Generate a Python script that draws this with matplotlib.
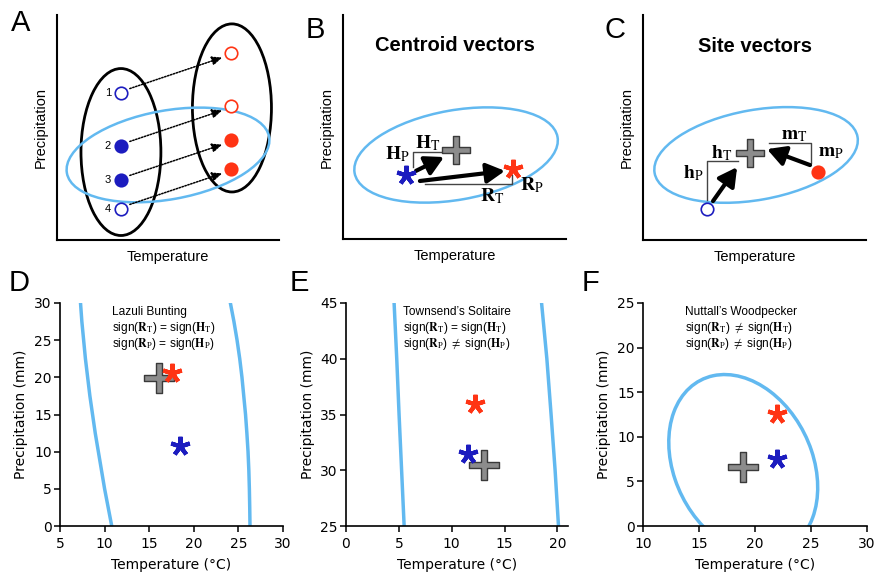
import numpy as np
import matplotlib.pyplot as plt
from matplotlib.patches import Ellipse
from matplotlib.path import Path

plt.rcParams['font.family'] = ['Liberation Sans', 'DejaVu Sans']
plt.rcParams['mathtext.fontset'] = 'stix'

LIGHT_BLUE = '#62b9f0'
BLUE = '#1c1cbf'
RED = '#ff3414'
GRAY = '#8c8c8c'

# ---------------- panel A (schematic, 0-100 units) ----------------
a_sites = ['1', '2', '3', '4']
a_hist_x = 28.8
a_hist_y = [65.3, 41.8, 26.7, 13.8]
a_hist_filled = [False, True, True, False]
a_mod_x = 78.4
a_mod_y = [83.1, 59.6, 44.4, 31.6]
a_mod_filled = [False, False, True, True]
a_hist_ell = (28.8, 39.1, 36.0, 74.2, 0)      # cx, cy, width, height, angle
a_mod_ell = (78.8, 58.7, 35.6, 74.7, 0)
a_niche_ell = (50.0, 37.8, 92.5, 39.5, 10)

# ---------------- panel B (centroid vectors) ----------------
b_niche_ell = (50.7, 37.5, 92.4, 40.0, 10)
b_hist = (28.3, 28.6)
b_mod = (76.2, 31.3)
b_centroid = (50.7, 39.7)
b_arrow_h = [(32.7, 30.4), (45.3, 36.6)]
b_arrow_r = [(34.5, 25.9), (72.6, 30.4)]
b_bracket_h_x = [31.4, 31.4, 44.4]
b_bracket_h_y = [32.1, 38.8, 38.8]
b_bracket_r_x = [36.8, 75.8, 75.8]
b_bracket_r_y = [24.6, 24.6, 28.6]

# ---------------- panel C (site vectors) ----------------
c_niche_ell = (50.7, 37.8, 92.4, 40.0, 10)
c_hist = (28.7, 13.8)
c_mod = (78.5, 30.2)
c_centroid = (48.0, 38.7)
c_arrow_h = [(31.4, 17.3), (42.2, 32.4)]
c_arrow_m = [(74.9, 33.3), (55.6, 40.4)]
c_bracket_h_x = [28.7, 28.7, 42.6]
c_bracket_h_y = [17.8, 35.1, 35.1]
c_bracket_m_x = [56.5, 75.3, 75.3]
c_bracket_m_y = [43.1, 43.1, 34.2]

# ---------------- panel D: Lazuli Bunting ----------------
d_curve_y = [30, 27.5, 25, 22.5, 20, 17.5, 15, 12.5, 10, 7.5, 5, 2.5, 0]
d_left_x = [7.3, 7.45, 7.65, 7.85, 8.1, 8.35, 8.65, 8.95, 9.3, 9.65, 10.0, 10.4, 10.8]
d_right_x = [24.1, 24.5, 24.85, 25.15, 25.4, 25.6, 25.8, 25.95, 26.08, 26.17, 26.23, 26.27, 26.3]
d_centroid = (16.1, 19.9)
d_hist = (18.4, 10.7)
d_mod = (17.5, 20.6)

# ---------------- panel E: Townsend's Solitaire ----------------
e_curve_y = [45, 40, 35, 30, 25]
e_left_x = [4.55, 4.8, 5.02, 5.26, 5.5]
e_right_x = [18.5, 19.0, 19.4, 19.78, 20.1]
e_centroid = (13.1, 30.5)
e_hist = (11.5, 31.5)
e_mod = (12.2, 35.9)

# ---------------- panel F: Nuttall's Woodpecker ----------------
f_niche_ell = (18.95, 6.85, 12.6, 20.7, 15)
f_centroid = (18.9, 6.66)
f_hist = (21.94, 7.5)
f_mod = (21.94, 12.54)

# thick plus marker
t = 0.22
PLUS = Path([(-t, 1), (t, 1), (t, t), (1, t), (1, -t), (t, -t), (t, -1), (-t, -1),
             (-t, -t), (-1, -t), (-1, t), (-t, t), (-t, 1)], closed=True)
AST = (5, 2, 0)


def ellipse(ax, spec, color, lw):
    cx, cy, w, h, ang = spec
    ax.add_patch(Ellipse((cx, cy), w, h, angle=ang, fill=False, edgecolor=color, lw=lw))


def plus(ax, p, ms=20):
    ax.plot(*p, marker=PLUS, ms=ms, mfc=GRAY, mec='#3a3a3a', mew=1, ls='none', zorder=5)


def star(ax, p, color, ms=14):
    ax.plot(*p, marker=AST, ms=ms, mec=color, mew=3, ls='none', zorder=6)


def big_arrow(ax, seg):
    ax.annotate('', xy=seg[1], xytext=seg[0],
                arrowprops=dict(arrowstyle='-|>,head_length=0.55,head_width=0.3',
                                mutation_scale=20, lw=3, color='k', shrinkA=0, shrinkB=0),
                zorder=4)


def schematic_axes(rect):
    ax = fig.add_axes(rect)
    ax.set_xlim(0, 100)
    ax.set_ylim(0, 100)
    for s in ['top', 'right']:
        ax.spines[s].set_visible(False)
    for s in ['left', 'bottom']:
        ax.spines[s].set_linewidth(1.5)
    ax.set_xticks([])
    ax.set_yticks([])
    ax.set_xlabel('Temperature', fontsize=10.5, labelpad=7)
    ax.set_ylabel('Precipitation', fontsize=10.5, labelpad=7)
    return ax


def data_axes(rect, xlim, ylim, xticks, yticks):
    ax = fig.add_axes(rect)
    ax.set_xlim(*xlim)
    ax.set_ylim(*ylim)
    ax.set_xticks(xticks)
    ax.set_yticks(yticks)
    for s in ['top', 'right']:
        ax.spines[s].set_visible(False)
    for s in ['left', 'bottom']:
        ax.spines[s].set_linewidth(1.2)
    ax.tick_params(direction='out', length=4, width=1.1)
    ax.tick_params(axis='x', pad=4)
    ax.tick_params(axis='y', pad=2)
    for lab in ax.get_xticklabels() + ax.get_yticklabels():
        lab.set_fontfamily('DejaVu Sans')
        lab.set_fontsize(10)
    ax.set_xlabel('Temperature (°C)', family='DejaVu Sans', fontsize=10, labelpad=5)
    ax.set_ylabel('Precipitation (mm)', family='DejaVu Sans', fontsize=10, labelpad=4)
    return ax


def sign_text(ax, x, lines):
    for yy, s in zip([0.947, 0.874, 0.801], lines):
        ax.text(x, yy, s, transform=ax.transAxes, fontsize=8.6, va='baseline')


fig = plt.figure(figsize=(8.76, 5.8), dpi=100)
W, H = 876, 580


def rect(l, r, top, bot):
    return [l / W, 1 - bot / H, (r - l) / W, (bot - top) / H]


# ---- A
ax = schematic_axes(rect(57, 279, 15, 240))
ellipse(ax, a_hist_ell, 'k', 2)
ellipse(ax, a_mod_ell, 'k', 2)
ellipse(ax, a_niche_ell, LIGHT_BLUE, 1.8)
for lab, yh, ym, fh, fm in zip(a_sites, a_hist_y, a_mod_y, a_hist_filled, a_mod_filled):
    ax.plot(a_hist_x, yh, 'o', ms=9, mec=BLUE, mew=1.2, mfc=BLUE if fh else 'white', zorder=5)
    ax.plot(a_mod_x, ym, 'o', ms=9, mec=RED, mew=1.2, mfc=RED if fm else 'white', zorder=5)
    ax.text(a_hist_x - 4.5, yh, lab, fontsize=8, ha='right', va='center')
    ax.annotate('', xy=(a_mod_x - 4, ym - 2), xytext=(a_hist_x + 4, yh + 2),
                arrowprops=dict(arrowstyle='-|>,head_length=0.5,head_width=0.22',
                                mutation_scale=12, lw=1.1, ls=(0, (1, 1)), color='k',
                                shrinkA=0, shrinkB=0))

# ---- B
ax = schematic_axes(rect(343, 566, 15, 239))
ax.set_title('Centroid vectors', fontsize=14.5, fontweight='bold', y=0.8)
ellipse(ax, b_niche_ell, LIGHT_BLUE, 1.8)
ax.plot(b_bracket_h_x, b_bracket_h_y, color='#444444', lw=1)
ax.plot(b_bracket_r_x, b_bracket_r_y, color='#444444', lw=1)
big_arrow(ax, b_arrow_h)
big_arrow(ax, b_arrow_r)
plus(ax, b_centroid)
star(ax, b_hist, BLUE)
star(ax, b_mod, RED)
ax.text(24.2, 37.9, r'$\mathbf{H}_\mathrm{P}$', fontsize=14, ha='center', va='center')
ax.text(38.1, 42.8, r'$\mathbf{H}_\mathrm{T}$', fontsize=14, ha='center', va='center')
ax.text(66.8, 19.0, r'$\mathbf{R}_\mathrm{T}$', fontsize=14, ha='center', va='center')
ax.text(84.5, 24.1, r'$\mathbf{R}_\mathrm{P}$', fontsize=14, ha='center', va='center')

# ---- C
ax = schematic_axes(rect(643, 866, 15, 240))
ax.set_title('Site vectors', fontsize=14.5, fontweight='bold', y=0.8)
ellipse(ax, c_niche_ell, LIGHT_BLUE, 1.8)
ax.plot(c_bracket_h_x, c_bracket_h_y, color='#444444', lw=1)
ax.plot(c_bracket_m_x, c_bracket_m_y, color='#444444', lw=1)
big_arrow(ax, c_arrow_h)
big_arrow(ax, c_arrow_m)
plus(ax, c_centroid)
ax.plot(*c_hist, 'o', ms=9, mec=BLUE, mew=1.2, mfc='white', zorder=6)
ax.plot(*c_mod, 'o', ms=9, mec=RED, mew=1.2, mfc=RED, zorder=6)
ax.text(22.4, 29.8, r'$\mathbf{h}_\mathrm{P}$', fontsize=14, ha='center', va='center')
ax.text(35.4, 38.5, r'$\mathbf{h}_\mathrm{T}$', fontsize=14, ha='center', va='center')
ax.text(67.7, 46.5, r'$\mathbf{m}_\mathrm{T}$', fontsize=14, ha='center', va='center')
ax.text(84.5, 38.7, r'$\mathbf{m}_\mathrm{P}$', fontsize=14, ha='center', va='center')

# ---- D
ax = data_axes(rect(60, 283, 303, 526), (5, 30), (0, 30), range(5, 31, 5), range(0, 31, 5))
ax.plot(d_left_x, d_curve_y, color=LIGHT_BLUE, lw=2.5)
ax.plot(d_right_x, d_curve_y, color=LIGHT_BLUE, lw=2.5)
plus(ax, d_centroid, 21)
star(ax, d_mod, RED)
star(ax, d_hist, BLUE)
sign_text(ax, 0.233, ['Lazuli Bunting',
                      r'sign($\mathbf{R}_\mathrm{T}$) = sign($\mathbf{H}_\mathrm{T}$)',
                      r'sign($\mathbf{R}_\mathrm{P}$) = sign($\mathbf{H}_\mathrm{P}$)'])

# ---- E
ax = data_axes(rect(346, 568, 303, 526), (0, 21), (25, 45), range(0, 21, 5), range(25, 46, 5))
ax.plot(e_left_x, e_curve_y, color=LIGHT_BLUE, lw=2.5)
ax.plot(e_right_x, e_curve_y, color=LIGHT_BLUE, lw=2.5)
plus(ax, e_centroid, 21)
star(ax, e_mod, RED)
star(ax, e_hist, BLUE)
sign_text(ax, 0.257, ['Townsend\u2019s Solitaire',
                      r'sign($\mathbf{R}_\mathrm{T}$) = sign($\mathbf{H}_\mathrm{T}$)',
                      r'sign($\mathbf{R}_\mathrm{P}$) $\neq$ sign($\mathbf{H}_\mathrm{P}$)'])

# ---- F
ax = data_axes(rect(643, 867, 303, 526), (10, 30), (0, 25), range(10, 31, 5), range(0, 26, 5))
ellipse(ax, f_niche_ell, LIGHT_BLUE, 2.5)
plus(ax, f_centroid, 21)
star(ax, f_mod, RED)
star(ax, f_hist, BLUE)
sign_text(ax, 0.188, ['Nuttall\u2019s Woodpecker',
                      r'sign($\mathbf{R}_\mathrm{T}$) $\neq$ sign($\mathbf{H}_\mathrm{T}$)',
                      r'sign($\mathbf{R}_\mathrm{P}$) $\neq$ sign($\mathbf{H}_\mathrm{P}$)'])

# panel letters
for letter, x, y in [('A', 11, 31), ('B', 306, 38), ('C', 605, 38),
                     ('D', 9, 291), ('E', 290, 291), ('F', 582, 291)]:
    fig.text(x / W, 1 - y / H, letter, fontsize=21, va='baseline')

fig.savefig('out.png', dpi=100)
